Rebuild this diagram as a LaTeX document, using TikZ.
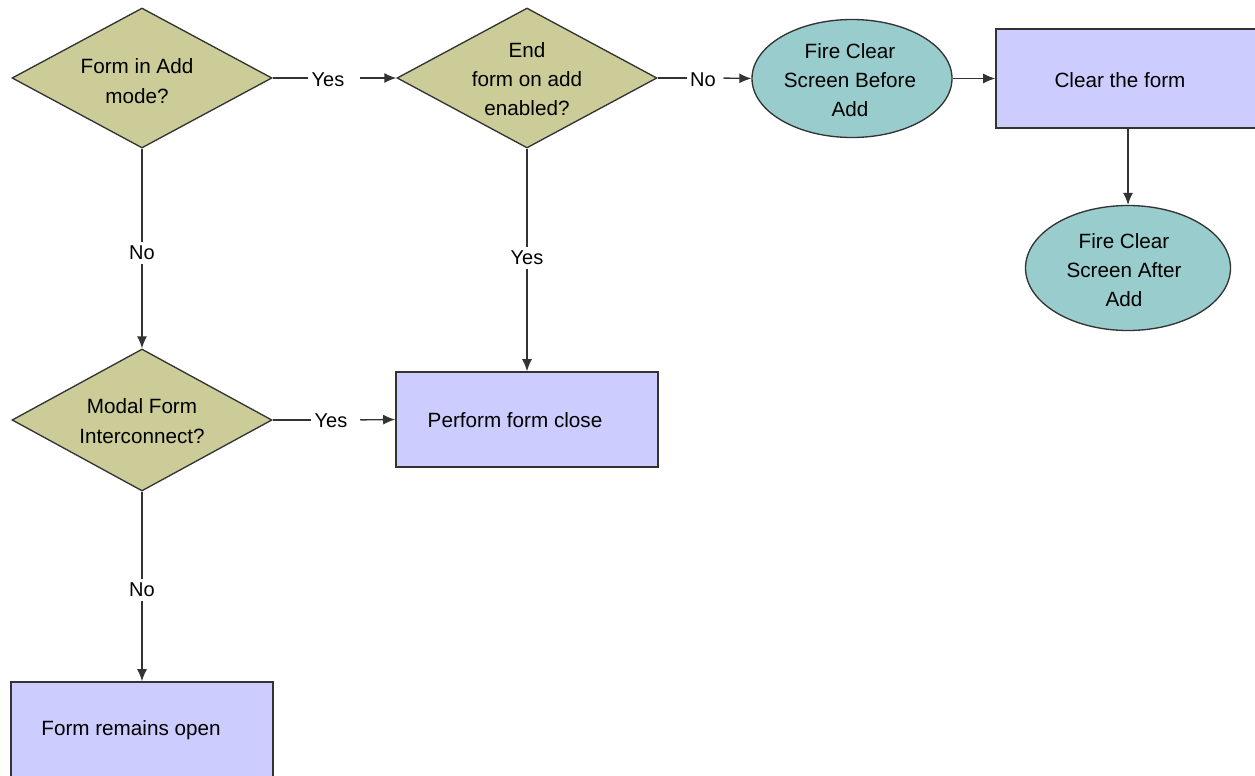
\documentclass[tikz,border=0pt]{standalone}
\usepackage{fontspec}
\setmainfont{Liberation Sans}
\usetikzlibrary{shapes.geometric,arrows.meta}
\definecolor{dfill}{RGB}{204,204,153}
\definecolor{efill}{RGB}{153,204,204}
\definecolor{rfill}{RGB}{204,204,255}
\definecolor{edgec}{RGB}{51,51,51}
\begin{document}
\begin{tikzpicture}[x=0.75pt,y=-0.75pt,
  dec/.style={diamond, draw=edgec, fill=dfill, line width=1pt, minimum width=195pt, minimum height=105pt, inner sep=0pt},
  ell/.style={ellipse, draw=edgec, fill=efill, line width=1pt, inner sep=0pt},
  box/.style={rectangle, draw=edgec, fill=rfill, line width=1.2pt, inner sep=0pt},
  txt/.style={align=center, font=\fontsize{15.5}{22}\selectfont, inner sep=0pt},
  lbl/.style={font=\fontsize{15}{18}\selectfont, inner sep=2.5pt},
  ln/.style={draw=edgec, line width=1pt},
  arr/.style={draw=edgec, line width=1pt, -{Latex[length=9pt,width=7.5pt]}}]
\fill[white] (0,0) rectangle (1255,775);
\useasboundingbox (0,0) rectangle (1255,775);
% shapes
\node[dec] (d1) at (142,78) {};
\node[txt] (t1) at (137,81) {Form in Add\\mode?};
\node[dec] (d2) at (527,78) {};
\node[txt] (t2) at (527,79) {End\\form on add\\enabled?};
\node[ell, minimum width=150pt, minimum height=88.5pt] (e1) at (852,78.5) {};
\node[txt] (t3) at (850,80) {Fire Clear\\Screen Before\\Add};
\node[box, minimum width=198pt, minimum height=74.25pt] (r1) at (1128,78.5) {};
\node[txt] (t4) at (1120,80) {Clear the form};
\node[ell, minimum width=153.75pt, minimum height=93.75pt] (e2) at (1128,268) {};
\node[txt] (t5) at (1124,270) {Fire Clear\\Screen After\\Add};
\node[dec, minimum height=106.5pt] (d3) at (142,420) {};
\node[txt] (t6) at (142,421) {Modal Form\\Interconnect?};
\node[box, minimum width=196.5pt, minimum height=71.25pt] (r2) at (527,419.5) {};
\node[txt] (t7) at (515,420) {Perform form close};
\node[box, minimum width=196.5pt, minimum height=73.5pt] (r3) at (142,731) {};
\node[txt] (t8) at (131,730) {Form remains open};
% labels
\node[lbl] (l1) at (328,80) {Yes};
\node[lbl] (l2) at (703,80) {No};
\node[lbl] (l3) at (142,253) {No};
\node[lbl] (l4) at (527,258) {Yes};
\node[lbl] (l5) at (331,421) {Yes};
\node[lbl] (l6) at (142,590) {No};
% connectors
\draw[ln] (d1.east) -- (l1.west |- d1.east);
\draw[arr, shorten <=9pt] (l1.east |- d1.east) -- (d2.west);
\draw[ln] (d2.east) -- (l2.west |- d2.east);
\draw[arr, shorten <=3pt] (l2.east |- d2.east) -- (e1.west);
\draw[arr] (e1.east) -- (r1.west);
\draw[arr] (r1.south) -- (e2.north);
\draw[ln] (d1.south) -- (l3.north);
\draw[arr] (l3.south) -- (d3.north);
\draw[ln] (d2.south) -- (l4.north);
\draw[arr] (l4.south) -- (r2.north);
\draw[ln] (d3.east) -- (l5.west |- d3.east);
\draw[arr, shorten <=7pt] (l5.east |- d3.east) -- (r2.west);
\draw[ln] (d3.south) -- (l6.north);
\draw[arr] (l6.south) -- (r3.north);
\end{tikzpicture}
\end{document}
